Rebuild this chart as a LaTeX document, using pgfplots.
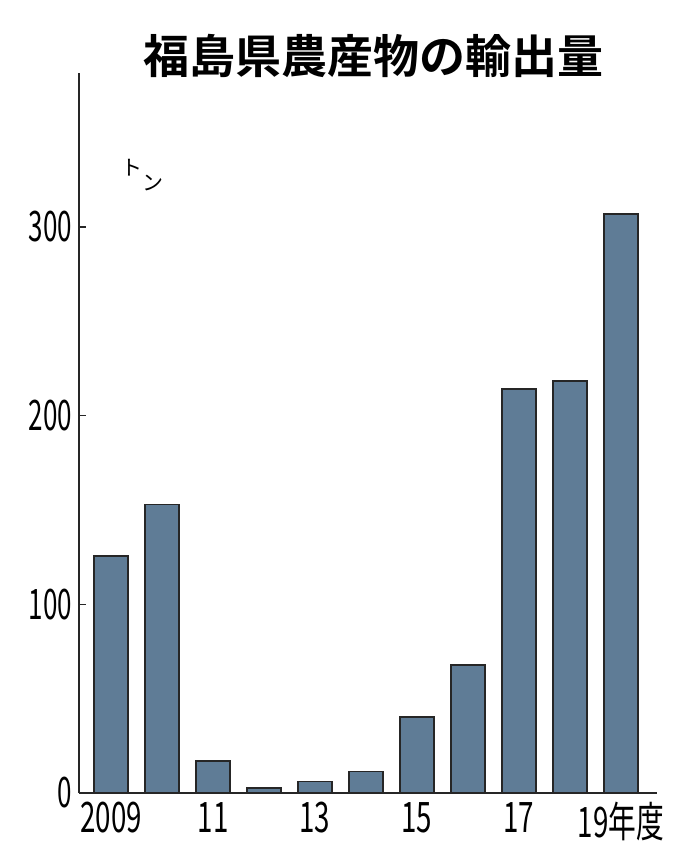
\documentclass[border=0pt]{standalone}
\usepackage{pgfplots}
\pgfplotsset{compat=1.18}
\usepackage{fontspec}
\setmainfont{Noto Sans CJK JP}
\newfontfamily\jpbold{Noto Sans CJK JP Bold}
\definecolor{barblue}{RGB}{95,124,150}
\begin{document}
\begin{tikzpicture}
\begin{axis}[
  anchor=south west, at={(0,0)},
  scale only axis, width=289pt, height=360pt,
  xmin=2008.37, xmax=2019.71,
  ymin=0, ymax=381.6,
  axis lines=left,
  axis line style={-, line width=0.8pt, black!85},
  ytick={0,100,200,300},
  xtick={2009,2011,2013,2015,2017,2019},
  major tick length=3.5pt,
  tick align=inside,
  xtick style={draw=none},
  ytick style={line width=0.8pt, black!85},
  tick label style={font=\fontsize{21}{24}\selectfont},
  /pgf/number format/assume math mode=true,
  yticklabel={\scalebox{0.62}[1]{\pgfmathprintnumber{\tick}}},
  xticklabel style={yshift=-1pt},
  xticklabel={\scalebox{0.66}[1]{\ticklabel}},
  title={\jpbold\fontsize{23}{26}\selectfont 福島県農産物の輸出量},
  title style={at={(axis description cs:0.51,1.007)}, anchor=center},
]
\def\ticklabel{\pgfmathparse{int(\tick)}\ifnum\pgfmathresult=2009 2009\else\ifnum\pgfmathresult=2019 19年度\else\pgfmathparse{int(\tick-2000)}\pgfmathresult\fi\fi}
\addplot[ybar, bar width=17pt, fill=barblue, draw=black!85, line width=0.8pt]
 coordinates {(2009,125.5) (2010,153) (2011,17) (2012,2.8) (2013,6) (2014,11.5)
              (2015,40.4) (2016,67.7) (2017,214) (2018,218.3) (2019,306.8)};
\node[font=\fontsize{10.5}{11}\selectfont, inner sep=0pt, anchor=base west]
  at (axis description cs:0.073,0.8583) {ト\raisebox{-7.5pt}{ン}};
\end{axis}
\pgfresetboundingbox
\path (-39.5pt,-33pt) rectangle (300.5pt,396.5pt);
\end{tikzpicture}
\end{document}
